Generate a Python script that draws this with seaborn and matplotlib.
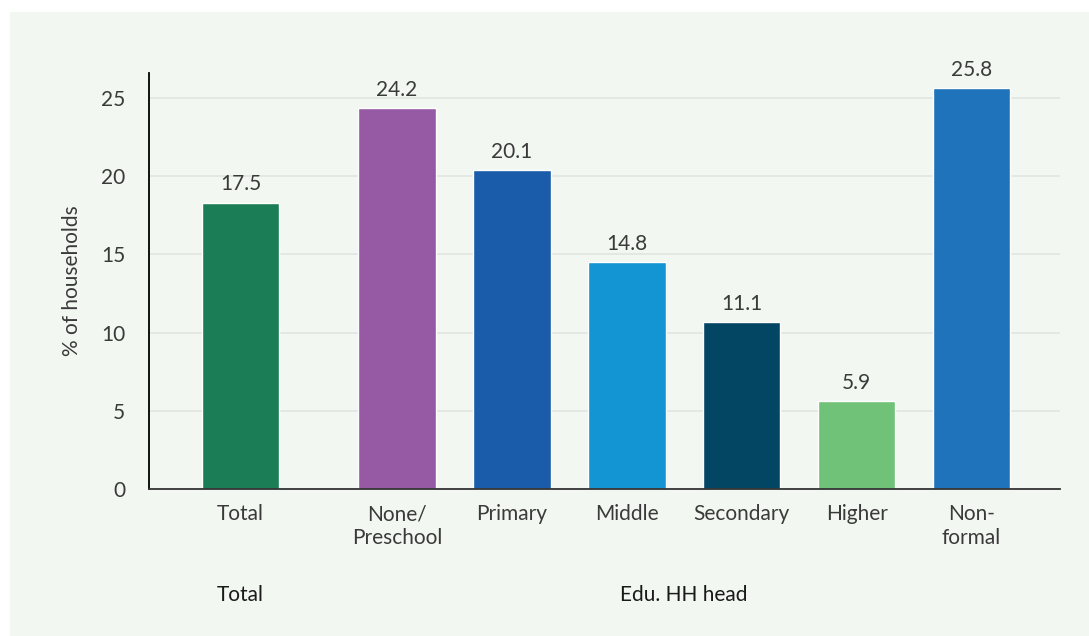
import matplotlib
matplotlib.use("Agg")
from matplotlib import pyplot as plt
import matplotlib.patches as mpatches
import numpy as np
import pandas as pd
import seaborn as sns

# Data
categories = ['Total', 'None/\nPreschool', 'Primary', 'Middle', 'Secondary', 'Higher', 'Non-\nformal']
positions = [0, 1.36, 2.36, 3.36, 4.36, 5.36, 6.36]
bar_heights = [18.3, 24.35, 20.4, 14.5, 10.65, 5.6, 25.65]
value_labels = ['17.5', '24.2', '20.1', '14.8', '11.1', '5.9', '25.8']
bar_colors = ['#1b7d55', '#9659a3', '#1a5caa', '#1495d3', '#034663', '#6fc277', '#1f73bb']
group_names = ['Total', 'Edu. HH head']
y_ticks = [0, 5, 10, 15, 20, 25]

bg = '#f2f7f1'
txt = '#3a3a3a'
fs = 15

sns.set_theme(style='white')
plt.rcParams['font.family'] = ['Lato', 'DejaVu Sans']

df = pd.DataFrame({'cat': categories, 'pos': positions, 'val': bar_heights})

fig = plt.figure(figsize=(10.89, 6.36), dpi=100)
fig.patch.set_facecolor('white')
# light panel behind everything
fig.patches.append(mpatches.Rectangle((10 / 1089, -0.01), 1.0, 1.01 - 12 / 636, transform=fig.transFigure,
                                      facecolor=bg, edgecolor='none', zorder=-10))

ax = fig.add_axes([149 / 1089, 1 - 489 / 636, (1060 - 149) / 1089, (489 - 73) / 636])
ax.set_facecolor(bg)

sns.barplot(data=df, x='pos', y='val', hue='cat', hue_order=categories, palette=bar_colors,
            native_scale=True, width=0.675, dodge=False, legend=False, saturation=1, ax=ax)

for cont, lab in zip(ax.containers, value_labels):
    ax.bar_label(cont, labels=[lab], padding=6, fontsize=fs, color=txt)

ax.set_xlim(-0.797, 7.13)
ax.set_ylim(0, 26.6)
ax.set_yticks(y_ticks)
ax.yaxis.grid(True, color='#e2e6e2', linewidth=1.2)
ax.set_axisbelow(True)

ax.set_xticks(positions)
ax.set_xticklabels(categories, fontsize=fs, color=txt, linespacing=1.25)
ax.tick_params(axis='x', length=0, pad=11)
ax.tick_params(axis='y', length=11, width=1.2, color='black', labelsize=fs, labelcolor=txt, pad=6)

for s in ['top', 'right']:
    ax.spines[s].set_visible(False)
ax.spines['left'].set_color('black')
ax.spines['left'].set_linewidth(1.3)
ax.spines['bottom'].set_color('#333333')
ax.spines['bottom'].set_linewidth(1.3)

ax.set_xlabel('')
ax.set_ylabel('% of households', fontsize=fs, color=txt, labelpad=14)

# group labels under the category labels
ax.text(positions[0], -0.255, group_names[0], transform=ax.get_xaxis_transform(),
        ha='center', va='center', fontsize=fs, color='#1a1a1a')
ax.text((positions[1] + positions[-1]) / 2, -0.255, group_names[1], transform=ax.get_xaxis_transform(),
        ha='center', va='center', fontsize=fs, color='#1a1a1a')

plt.savefig('out.png', dpi=100, facecolor=fig.get_facecolor())
